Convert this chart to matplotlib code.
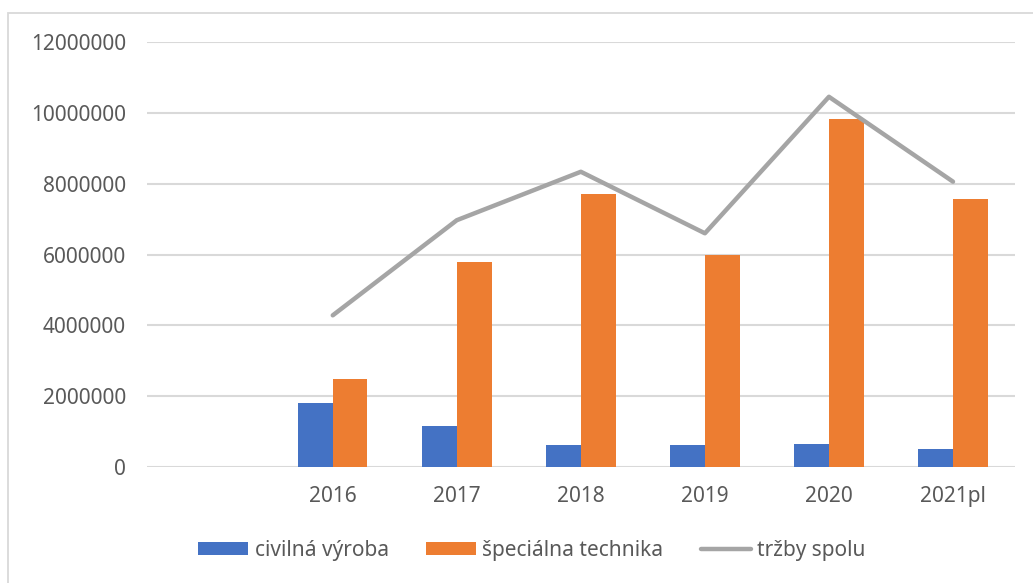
import numpy as np
import matplotlib.pyplot as plt
from matplotlib.patches import Rectangle

# first slot of the category axis is empty in the original chart
categories = ['', '2016', '2017', '2018', '2019', '2020', '2021pl']
civilna = [np.nan, 1810000, 1160000, 610000, 610000, 650000, 500000]
specialna = [np.nan, 2490000, 5800000, 7720000, 5980000, 9830000, 7560000]
trzby = [np.nan, 4280000, 6970000, 8340000, 6600000, 10460000, 8060000]
y_ticks = [0, 2000000, 4000000, 6000000, 8000000, 10000000, 12000000]

plt.rcParams['font.family'] = ['Noto Sans', 'DejaVu Sans']

fig = plt.figure(figsize=(10.33, 5.83), dpi=100)
ax = fig.add_axes([0.142, 0.1995, 0.8406, 0.7279])

x = np.arange(len(categories))
w = 0.28
b1 = ax.bar(x - w / 2, civilna, w, color='#4472C4', label='civilná výroba', zorder=2)
b2 = ax.bar(x + w / 2, specialna, w, color='#ED7D31', label='špeciálna technika', zorder=2)
l1, = ax.plot(x, trzby, color='#A5A5A5', lw=3.2, solid_capstyle='round', label='tržby spolu', zorder=3)

ax.set_xlim(-0.5, len(categories) - 0.5)
ax.set_ylim(0, 12000000)
ax.set_yticks(y_ticks)
ax.set_yticklabels([str(v) for v in y_ticks])
ax.set_xticks(x)
ax.set_xticklabels(categories)
ax.tick_params(axis='both', length=0, labelsize=15, colors='#595959')
ax.tick_params(axis='y', pad=15)
ax.tick_params(axis='x', pad=14)
ax.grid(axis='y', color='#D9D9D9', lw=1.5, zorder=0)
for s in ax.spines.values():
    s.set_visible(False)

leg = fig.legend([b1, b2, l1], ['civilná výroba', 'špeciálna technika', 'tržby spolu'],
                 loc='center', bbox_to_anchor=(0.515, 0.056), ncol=3, frameon=False,
                 fontsize=15, handlelength=2.4, handleheight=0.6, handletextpad=0.3,
                 columnspacing=1.8)
for t in leg.get_texts():
    t.set_color('#595959')

# light chart-area border (cropped on the right and bottom)
fig.patches.append(Rectangle((8 / 1033, -0.1), 1.2, 1 - 13 / 583 + 0.1, transform=fig.transFigure,
                             fill=False, edgecolor='#D9D9D9', lw=1.3))

fig.savefig('out.png', dpi=100)
